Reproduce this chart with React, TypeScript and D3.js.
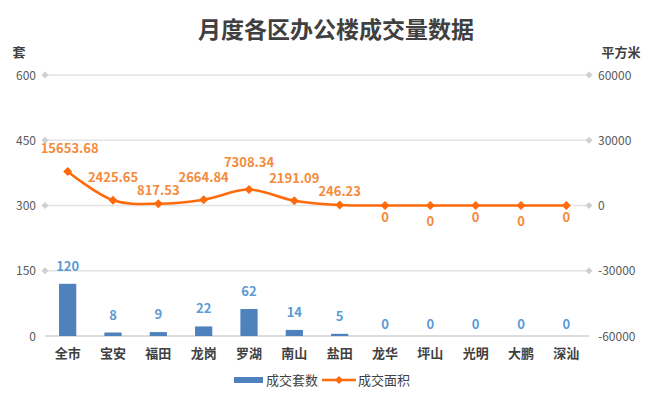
import React from "react";
import * as d3 from "d3";

const categories = ["全市", "宝安", "福田", "龙岗", "罗湖", "南山", "盐田", "龙华", "坪山", "光明", "大鹏", "深汕"];
const units = [120, 8, 9, 22, 62, 14, 5, 0, 0, 0, 0, 0];
const areas = [15653.68, 2425.65, 817.53, 2664.84, 7308.34, 2191.09, 246.23, 0, 0, 0, 0, 0];
const leftTicks = [0, 150, 300, 450, 600];
const rightTicks = [-60000, -30000, 0, 30000, 60000];
const title = "月度各区办公楼成交量数据";

const W = 662, H = 398;
const FONT = "'Noto Sans CJK SC', 'Microsoft YaHei', sans-serif";
// label lift (px above point) used to avoid overlapping labels, as in the reference
const LIFT = [18, 18, 9, 18, 23, 18, 9];
const DROP = [11, 15, 11, 15, 11];

export default function App() {
  const x = d3.scaleBand<string>().domain(categories).range([45, 589]).paddingInner(0.62).paddingOuter(0.31);
  const yL = d3.scaleLinear().domain([0, 600]).range([336, 75]);
  const yR = d3.scaleLinear().domain([-60000, 60000]).range([336, 75]);
  const cx = (c: string) => (x(c) as number) + x.bandwidth() / 2;
  const line = d3.line<number>()
    .x((_, i) => cx(categories[i]))
    .y((d) => yR(d))
    .curve(d3.curveCatmullRom.alpha(0.5));
  const diamond = (px: number, py: number, r: number) =>
    `M${px},${py - r}L${px + r},${py}L${px},${py + r}L${px - r},${py}Z`;

  let zi = 0;
  return (
    <svg width={W} height={H} style={{ position: "absolute", left: 0, top: 0, background: "#fff" }} fontFamily={FONT}>
      <text x={336} y={38} textAnchor="middle" fontSize={23} fontWeight="bold" fill="#404040">{title}</text>
      <text x={19} y={57} textAnchor="middle" fontSize={13} fontWeight="bold" fill="#404040">套</text>
      <text x={621} y={57} textAnchor="middle" fontSize={13} fontWeight="bold" fill="#404040">平方米</text>

      {leftTicks.map((t) => (
        <g key={"g" + t}>
          <line x1={45} x2={589} y1={yL(t)} y2={yL(t)} stroke={t === 0 ? "#d0d0d0" : "#e3e3e3"} strokeWidth={1.5} />
          <text x={36} y={yL(t) + 4.5} textAnchor="end" fontSize={12} fill="#595959">{t}</text>
          {t !== 0 && <path d={diamond(45, yL(t), 3.5)} fill="#d0d0d0" />}
        </g>
      ))}
      {rightTicks.map((t) => (
        <g key={"r" + t}>
          <text x={598} y={yR(t) + 4.5} textAnchor="start" fontSize={12} fill="#595959">{t}</text>
          {t !== -60000 && <path d={diamond(589, yR(t), 3.5)} fill="#d0d0d0" />}
        </g>
      ))}

      {categories.map((c, i) => (
        <g key={"b" + c}>
          <rect x={x(c)} y={yL(units[i])} width={x.bandwidth()} height={336 - yL(units[i])} fill="#4F81BD" />
          <text x={cx(c)} y={yL(units[i]) - (units[i] === 0 ? 7 : 13)} textAnchor="middle" fontSize={13} fontWeight="bold" fill="#5B9BD5">{units[i]}</text>
          <text x={cx(c)} y={358} textAnchor="middle" fontSize={13} fontWeight="bold" fill="#404040">{c}</text>
        </g>
      ))}

      <path d={line(areas) as string} fill="none" stroke="#FF6A0A" strokeWidth={2.5} />
      {categories.map((c, i) => {
        const isZero = areas[i] === 0;
        const y = isZero ? yR(areas[i]) + DROP[(zi++) % DROP.length] + 5 : yR(areas[i]) - LIFT[i];
        return (
          <g key={"p" + c}>
            <path d={diamond(cx(c), yR(areas[i]), 4.5)} fill="#FF6A0A" />
            <text x={cx(c) + (i === 0 ? 2 : 0)} y={y} textAnchor="middle" fontSize={13} fontWeight="bold" fill="#F58A3A">{isZero ? "0" : areas[i].toFixed(2)}</text>
          </g>
        );
      })}

      <rect x={234} y={377} width={29} height={6} fill="#4F81BD" />
      <text x={266} y={385} fontSize={13} fill="#404040">成交套数</text>
      <line x1={322} x2={356} y1={380} y2={380} stroke="#FF6A0A" strokeWidth={2.5} />
      <path d={diamond(339, 380, 4)} fill="#FF6A0A" />
      <text x={358} y={385} fontSize={13} fill="#404040">成交面积</text>
    </svg>
  );
}
